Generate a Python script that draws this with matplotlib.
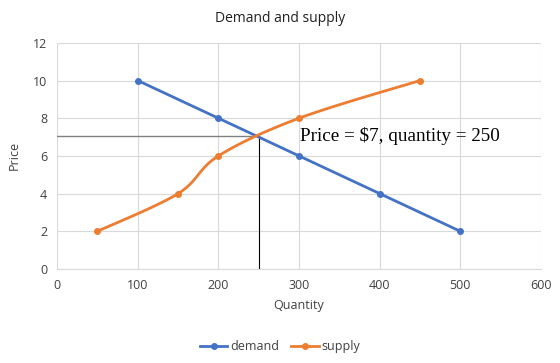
import numpy as np
import matplotlib
matplotlib.use("Agg")
import matplotlib.pyplot as plt
from matplotlib.lines import Line2D

demand_q = [100, 200, 300, 400, 500]
demand_p = [10, 8, 6, 4, 2]
supply_q = [50, 150, 200, 300, 450]
supply_p = [2, 4, 6, 8, 10]
eq_q = 250
eq_p = 7.05
xticks = [0, 100, 200, 300, 400, 500, 600]
yticks = [0, 2, 4, 6, 8, 10, 12]

def smooth(xs, ys, n=30):
    xs = np.asarray(xs, float); ys = np.asarray(ys, float)
    P = np.column_stack([xs, ys])
    out = []
    for i in range(len(P) - 1):
        p0 = P[i - 1] if i > 0 else P[i]
        p1 = P[i]; p2 = P[i + 1]
        p3 = P[i + 2] if i + 2 < len(P) else P[i + 1]
        c1 = p1 + (p2 - p0) / 6.0
        c2 = p2 - (p3 - p1) / 6.0
        t = np.linspace(0, 1, n)[:, None]
        seg = (1 - t) ** 3 * p1 + 3 * (1 - t) ** 2 * t * c1 + 3 * (1 - t) * t ** 2 * c2 + t ** 3 * p2
        out.append(seg if i == 0 else seg[1:])
    S = np.vstack(out)
    return S[:, 0], S[:, 1]

plt.rcParams['font.family'] = ['Open Sans', 'DejaVu Sans']
fig = plt.figure(figsize=(5.6, 3.63), dpi=100)
ax = fig.add_axes([0.102, 0.259, 0.864, 0.623])

blue = '#4472C4'
orange = '#ED7D31'
ax.plot(demand_q, demand_p, color=blue, lw=2, marker='o', ms=4, zorder=3)
sx, sy = smooth(supply_q, supply_p)
ax.plot(sx, sy, color=orange, lw=2, zorder=3)
ax.plot(supply_q, supply_p, color=orange, lw=0, marker='o', ms=4, zorder=3)

ax.plot([0, eq_q], [eq_p, eq_p], color='#808080', lw=1, zorder=2)
ax.plot([eq_q, eq_q], [0, eq_p], color='black', lw=0.8, zorder=2)
ax.text(301, eq_p, 'Price = $7, quantity = 250', family='Liberation Serif',
        fontsize=13.8, va='center', ha='left')

ax.set_xlim(0, 600)
ax.set_ylim(0, 12)
ax.set_xticks(xticks)
ax.set_yticks(yticks)
ax.grid(True, color='#D9D9D9', lw=0.8)
ax.set_axisbelow(True)
for s in ['top', 'right', 'left']:
    ax.spines[s].set_visible(False)
ax.spines['bottom'].set_color('#D9D9D9')
ax.tick_params(length=0, labelsize=9, colors='#404040', pad=7)
ax.set_xlabel('Quantity', fontsize=9, color='#404040', labelpad=5)
ax.set_ylabel('Price', fontsize=9, color='#404040', labelpad=9)
fig.suptitle('Demand and supply', fontsize=10, color='#202020', y=0.97)

handles = [Line2D([], [], color=blue, lw=2, marker='o', ms=4),
           Line2D([], [], color=orange, lw=2, marker='o', ms=4)]
fig.legend(handles, ['demand', 'supply'], loc='center', bbox_to_anchor=(0.5, 0.045),
           ncol=2, frameon=False, fontsize=9, handlelength=2.2, columnspacing=1.0,
           handletextpad=0.2, labelcolor='#404040')

fig.savefig('out.png', dpi=100)
